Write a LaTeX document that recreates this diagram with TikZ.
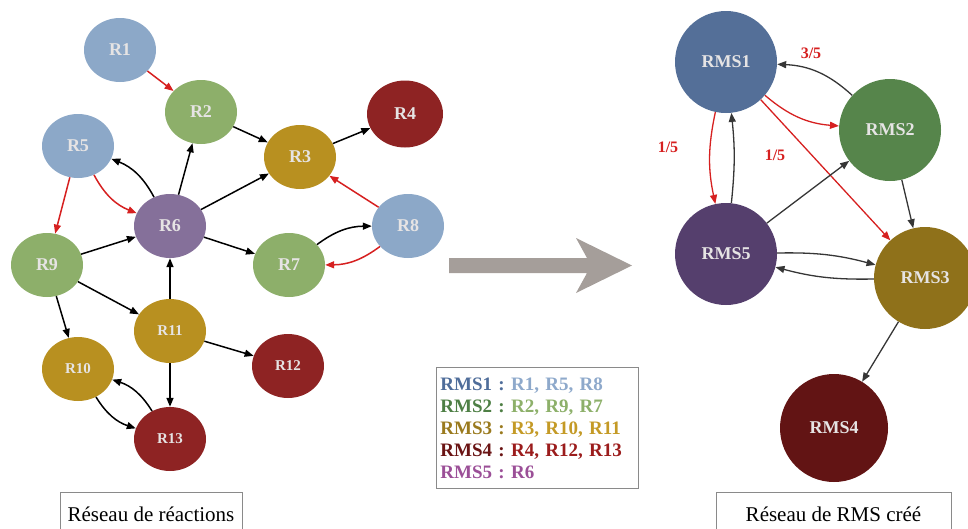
\documentclass[tikz,border=0pt]{standalone}
\usepackage{fontspec}
\setmainfont{Liberation Serif}
\usetikzlibrary{shapes.geometric,arrows.meta}
\definecolor{rblue}{HTML}{8CA8C8}
\definecolor{rgreen}{HTML}{8DAF6A}
\definecolor{rgold}{HTML}{B89020}
\definecolor{rdark}{HTML}{8E2323}
\definecolor{rpurple}{HTML}{85709A}
\definecolor{mblue}{HTML}{546F98}
\definecolor{mgreen}{HTML}{56854B}
\definecolor{mgold}{HTML}{8F711A}
\definecolor{mdark}{HTML}{621414}
\definecolor{mpurple}{HTML}{553F6D}
\definecolor{nodetxt}{HTML}{E6E4E4}
\definecolor{rred}{HTML}{D62020}
\definecolor{arrgray}{HTML}{363636}
\definecolor{bigarrow}{HTML}{A59E9A}
\definecolor{boxgray}{HTML}{8A8A8A}
\definecolor{lgblue}{HTML}{4F6D9A}
\definecolor{lgblueb}{HTML}{8EA9CB}
\definecolor{lggreen}{HTML}{4E7F45}
\definecolor{lggreenb}{HTML}{8DB06A}
\definecolor{lggold}{HTML}{9A7A1E}
\definecolor{lggoldb}{HTML}{C49A26}
\definecolor{lgdark}{HTML}{6A1414}
\definecolor{lgdarkb}{HTML}{9B1C1C}
\definecolor{lgpurple}{HTML}{9B4F97}
\begin{document}
\begin{tikzpicture}[x=1pt,y=-1pt,
  reac/.style={ellipse, minimum width=72pt, minimum height=64pt, inner sep=0pt,
    text=nodetxt, font=\bfseries\fontsize{18}{18}\selectfont},
  reacs/.style={reac, font=\bfseries\fontsize{15}{15}\selectfont},
  rms/.style={circle, minimum size=102pt, inner sep=0pt,
    text=nodetxt, font=\bfseries\fontsize{18}{18}\selectfont},
  blk/.style={-{Triangle[length=9pt,width=7pt]}, line width=1.5pt, black},
  rd/.style={blk, rred},
  gry/.style={blk, arrgray, line width=1.3pt},
  frac/.style={text=rred, font=\bfseries\fontsize{16}{16}\selectfont},
  caption/.style={draw=boxgray, line width=0.8pt, minimum height=44pt,
    font=\fontsize{21}{21}\selectfont}]
\useasboundingbox (0,0) rectangle (968,528);
\clip (0,0) rectangle (968,528);

% reaction network
\node[reac, fill=rblue] (R1) at (120,50) {R1};
\node[reac, fill=rgreen] (R2) at (201,112) {R2};
\node[reac, fill=rgold] (R3) at (300,157) {R3};
\node[reac, fill=rdark, minimum width=76pt, minimum height=67pt] (R4) at (405,114) {R4};
\node[reac, fill=rblue] (R5) at (78,146) {R5};
\node[reac, fill=rpurple] (R6) at (170,226) {R6};
\node[reac, fill=rgreen] (R7) at (289,265) {R7};
\node[reac, fill=rblue] (R8) at (408,226) {R8};
\node[reac, fill=rgreen] (R9) at (47,265) {R9};
\node[reacs, fill=rgold] (R10) at (78,369) {R10};
\node[reacs, fill=rgold] (R11) at (170,331) {R11};
\node[reacs, fill=rdark] (R12) at (288,366) {R12};
\node[reacs, fill=rdark] (R13) at (170,439) {R13};

\draw[rd] (R1) -- (R2);
\draw[rd] (R5) -- (R9);
\draw[rd] (R5) to[bend right=20] (R6);
\draw[rd] (R8) -- (R3);
\draw[rd] (R8) to[bend left=18] (R7);
\draw[blk] (R2) -- (R3);
\draw[blk] (R3) -- (R4);
\draw[blk] (R6) to[bend right=20] (R5);
\draw[blk] (R6) -- (R2);
\draw[blk] (R6) -- (R3);
\draw[blk] (R6) -- (R7);
\draw[blk] (R7) to[bend left=18] (R8);
\draw[blk] (R9) -- (R6);
\draw[blk] (R9) -- (R11);
\draw[blk] (R9) -- (R10);
\draw[blk] (R11) -- (R6);
\draw[blk] (R11) -- (R12);
\draw[blk] (R11) -- (R13);
\draw[blk] (R10) to[bend right=20] (R13);
\draw[blk] (R13) to[bend right=20] (R10);

\node[caption, minimum width=182pt] (capR) at (151,514) {Réseau de réactions};

% big arrow
\fill[bigarrow] (449,258) -- (587,258) -- (576,238) -- (632,265.5) -- (576,293)
  -- (587,273) -- (449,273) -- cycle;

% legend
\node[draw=boxgray, line width=0.8pt, anchor=north west, minimum width=202pt,
  minimum height=121pt, inner xsep=4pt, text width=194pt, align=left,
  font=\bfseries\fontsize{19}{22}\selectfont\frenchspacing] (legend) at (436,367) {%
  {\color{lgblue}RMS1 : }{\color{lgblueb}R1, R5, R8}\\
  {\color{lggreen}RMS2 : }{\color{lggreenb}R2, R9, R7}\\
  {\color{lggold}RMS3 : }{\color{lggoldb}R3, R10, R11}\\
  {\color{lgdark}RMS4 : }{\color{lgdarkb}R4, R12, R13}\\
  {\color{lgpurple}RMS5 : R6}};

% RMS network
\node[rms, fill=mblue] (RMS1) at (726,62) {RMS1};
\node[rms, fill=mgreen] (RMS2) at (890,130) {RMS2};
\node[rms, fill=mgold] (RMS3) at (925,278) {RMS3};
\node[rms, fill=mdark, minimum size=108pt] (RMS4) at (834,428) {RMS4};
\node[rms, fill=mpurple] (RMS5) at (726,254) {RMS5};

\draw[gry] (RMS2) to[bend right=20] (RMS1);
\draw[rd, line width=1.3pt] (RMS1) to[bend right=18] (RMS2);
\draw[rd, line width=1.3pt] (RMS1) to[bend right=12] (RMS5);
\draw[gry] (RMS5) to[bend right=6] (RMS1);
\draw[rd, line width=1.3pt] (RMS1) -- (RMS3);
\draw[gry] (RMS5) -- (RMS2);
\draw[gry] (RMS2) -- (RMS3);
\draw[gry] (RMS5) to[bend left=8] (RMS3);
\draw[gry] (RMS3) to[bend left=8] (RMS5);
\draw[gry] (RMS3) -- (RMS4);

\node[frac] (f1) at (811,53) {3/5};
\node[frac] (f2) at (668,147) {1/5};
\node[frac] (f3) at (775,155) {1/5};

\node[caption, minimum width=235pt] (capM) at (833.5,514) {Réseau de RMS créé};
\end{tikzpicture}
\end{document}
